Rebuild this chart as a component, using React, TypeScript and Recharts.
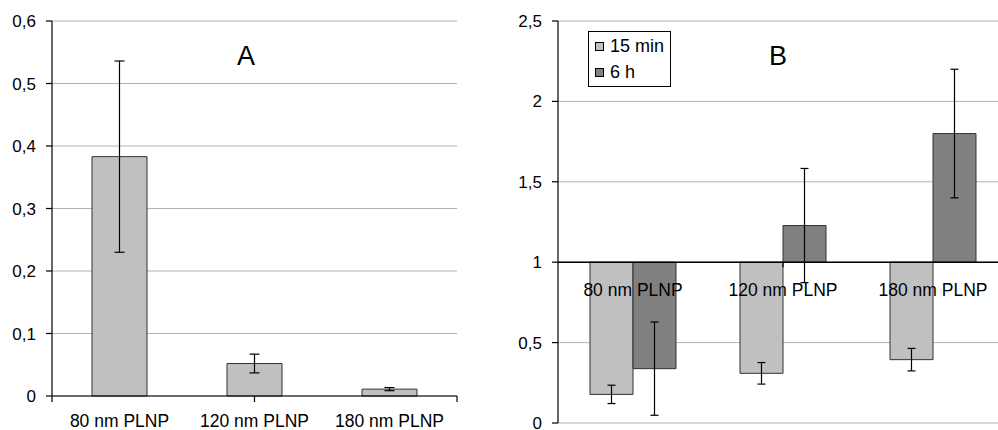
import React from 'react';
import {
  BarChart,
  Bar,
  XAxis,
  YAxis,
  CartesianGrid,
  ErrorBar,
  ReferenceLine,
  ReferenceDot,
  Legend,
} from 'recharts';

// ---- data ----
const categories = ['80 nm PLNP', '120 nm PLNP', '180 nm PLNP'];

const valuesA = [0.383, 0.052, 0.011];
const errorsA = [0.153, 0.015, 0.0025];
const yTicksA = [0, 0.1, 0.2, 0.3, 0.4, 0.5, 0.6];

const seriesNamesB = ['15 min', '6 h'];
const values15min = [0.178, 0.309, 0.394];
const errors15min = [0.057, 0.067, 0.07];
const values6h = [0.338, 1.228, 1.8];
const errors6h = [0.29, 0.355, 0.4];
const yTicksB = [0, 0.5, 1, 1.5, 2, 2.5];
const baselineB = 1;

const titles = ['A', 'B'];

// ---- derived tables ----
const dataA = categories.map((name, i) => ({ name, value: valuesA[i], err: errorsA[i] }));
const dataB = categories.map((name, i) => ({
  name,
  m15: values15min[i] - baselineB,
  e15: errors15min[i],
  h6: values6h[i] - baselineB,
  e6: errors6h[i],
}));
const shiftedTicksB = yTicksB.map((t) => t - baselineB);
const boundaries = Array.from({ length: categories.length + 1 }, (_, i) => i);

const fmt = (v: number) => String(Math.round(v * 100) / 100).replace('.', ',');
const fmtB = (v: number) => fmt(v + baselineB);

const FONT = '"Liberation Sans", Arial, sans-serif';
const GRID = '#b3b3b3';
const LIGHT = '#c0c0c0';
const DARK = '#808080';

const tickShape = (len: number) => (props: any) => {
  const { x1, y1 } = props;
  return <line x1={x1} x2={x1} y1={y1} y2={y1 + len} stroke="#000" strokeWidth={1.2} />;
};

const renderLegend = (props: any) => {
  const { payload } = props;
  return (
    <div
      style={{
        border: '1px solid #000',
        background: '#fff',
        padding: '1px 0 1px 6px',
        width: 83,
        boxSizing: 'border-box',
        fontFamily: FONT,
        fontSize: 18,
        color: '#000',
      }}
    >
      {payload.map((e: any) => (
        <div key={e.value} style={{ display: 'flex', alignItems: 'center', height: 26 }}>
          <span
            style={{
              display: 'inline-block',
              width: 7,
              height: 7,
              background: e.color,
              border: '1px solid #000',
              marginRight: 6,
            }}
          />
          <span>{e.value}</span>
        </div>
      ))}
    </div>
  );
};

const tickStyle = { fill: '#000', fontSize: 17 };
const catStyle = { fill: '#000', fontSize: 17.5 };

export default function App() {
  return (
    <div
      style={{
        position: 'fixed',
        left: 0,
        top: 0,
        width: 998,
        height: 430,
        overflow: 'hidden',
        background: '#fff',
        fontFamily: FONT,
      }}
    >
      {/* Chart A */}
      <div style={{ position: 'absolute', left: 0, top: 0 }}>
        <BarChart
          width={470}
          height={430}
          data={dataA}
          margin={{ top: 21, right: 13, bottom: 0, left: 0 }}
          barSize={55}
        >
          <CartesianGrid vertical={false} stroke={GRID} />
          <XAxis
            dataKey="name"
            interval={0}
            tickLine={false}
            tickSize={0}
            tickMargin={19}
            height={34}
            axisLine={{ stroke: '#000', strokeWidth: 1.2 }}
            tick={catStyle}
          />
          <XAxis xAxisId="num" type="number" domain={[0, 3]} hide allowDataOverflow />
          <YAxis
            domain={[0, 0.6]}
            ticks={yTicksA}
            interval={0}
            width={52}
            tickSize={6}
            tickMargin={10}
            axisLine={{ stroke: '#000', strokeWidth: 1.2 }}
            tickLine={{ stroke: '#000', strokeWidth: 1.2 }}
            tickFormatter={fmt}
            tick={tickStyle}
          />
          <ReferenceLine xAxisId="num" x={3} stroke={GRID} />
          <Bar dataKey="value" fill={LIGHT} stroke="#333" isAnimationActive={false}>
            <ErrorBar dataKey="err" width={5} stroke="#000" strokeWidth={1.2} />
          </Bar>
          {boundaries.map((b) => (
            <ReferenceLine
              key={b}
              xAxisId="num"
              segment={[
                { x: b, y: 0 },
                { x: b, y: 0 },
              ]}
              shape={tickShape(6)}
            />
          ))}
        </BarChart>
      </div>

      {/* Chart B */}
      <div style={{ position: 'absolute', left: 500, top: 0 }}>
        <BarChart
          width={518}
          height={430}
          data={dataB}
          margin={{ top: 21, right: 10, bottom: 7, left: 0 }}
          barSize={43}
          barGap={0}
        >
          <CartesianGrid vertical={false} stroke={GRID} />
          <XAxis dataKey="name" hide />
          <XAxis xAxisId="num" type="number" domain={[0, 3]} hide allowDataOverflow />
          <YAxis
            domain={[shiftedTicksB[0], shiftedTicksB[shiftedTicksB.length - 1]]}
            ticks={shiftedTicksB}
            interval={0}
            width={58}
            tickSize={6}
            tickMargin={10}
            axisLine={{ stroke: '#000', strokeWidth: 1.2 }}
            tickLine={{ stroke: '#000', strokeWidth: 1.2 }}
            tickFormatter={fmtB}
            tick={tickStyle}
          />
          <Bar dataKey="m15" name={seriesNamesB[0]} fill={LIGHT} stroke="#333" isAnimationActive={false}>
            <ErrorBar dataKey="e15" width={4} stroke="#000" strokeWidth={1.2} />
          </Bar>
          <Bar dataKey="h6" name={seriesNamesB[1]} fill={DARK} stroke="#333" isAnimationActive={false}>
            <ErrorBar dataKey="e6" width={4} stroke="#000" strokeWidth={1.2} />
          </Bar>
          <ReferenceLine y={0} stroke="#000" strokeWidth={1.5} />
          {boundaries.slice(1, -1).map((b) => (
            <ReferenceLine
              key={b}
              xAxisId="num"
              segment={[
                { x: b, y: 0 },
                { x: b, y: 0 },
              ]}
              shape={tickShape(5)}
            />
          ))}
          {categories.map((c) => (
            <ReferenceDot
              key={c}
              x={c}
              y={0}
              r={0}
              fill="none"
              stroke="none"
              label={{ value: c, position: 'bottom', offset: 21, fill: '#000', fontSize: 17.5 }}
            />
          ))}
          <Legend
            layout="vertical"
            align="center"
            verticalAlign="middle"
            wrapperStyle={{ left: 88, top: 31, width: 83 }}
            content={renderLegend}
          />
        </BarChart>
      </div>

      {/* Titles */}
      <div
        style={{
          position: 'absolute',
          left: 226,
          top: 41,
          width: 40,
          textAlign: 'center',
          fontSize: 27,
          lineHeight: '30px',
          color: '#000',
        }}
      >
        {titles[0]}
      </div>
      <div
        style={{
          position: 'absolute',
          left: 758,
          top: 41,
          width: 40,
          textAlign: 'center',
          fontSize: 27,
          lineHeight: '30px',
          color: '#000',
        }}
      >
        {titles[1]}
      </div>
    </div>
  );
}
